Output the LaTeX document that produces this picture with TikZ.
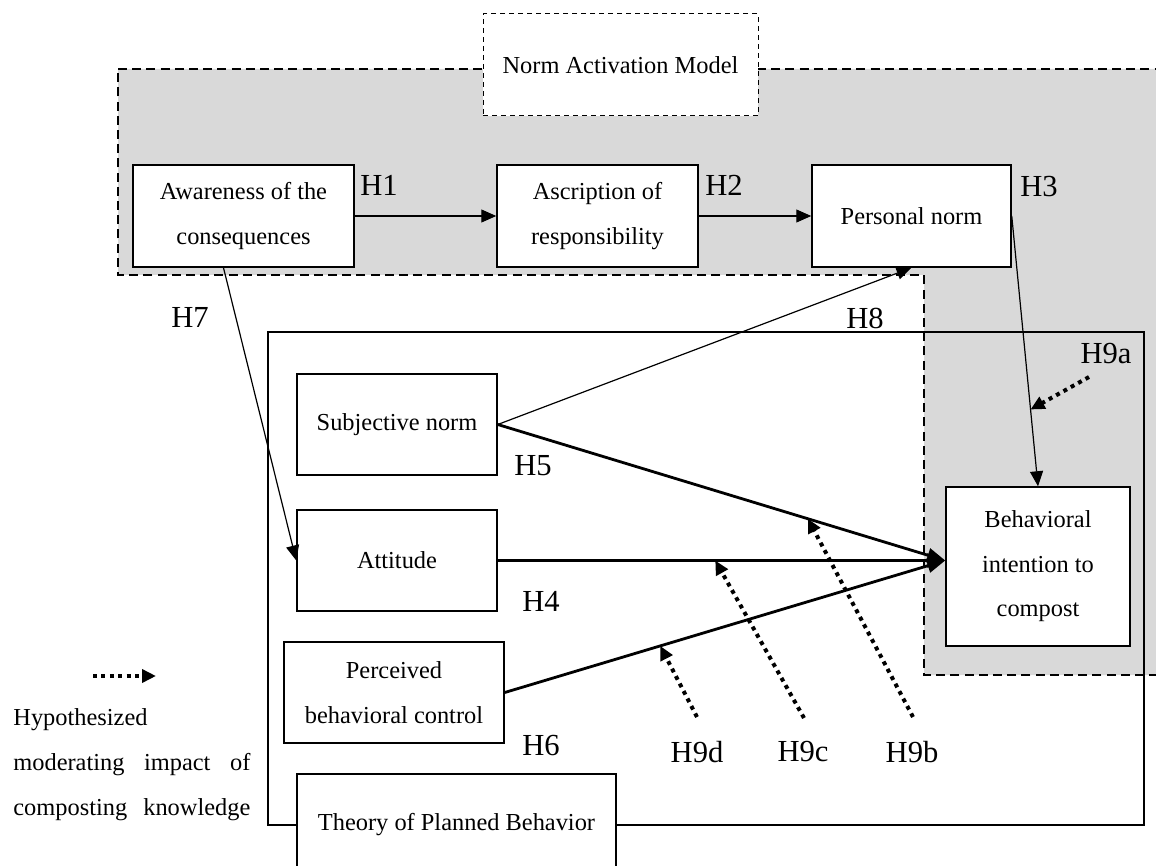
\documentclass[tikz,border=0pt]{standalone}
\usepackage{fontspec}
\setmainfont{Liberation Serif}
\usetikzlibrary{arrows.meta,calc}
\newcommand{\boxfont}{\fontsize{12.2}{22.2}\selectfont}
\newcommand{\hypfont}{\fontsize{15.3}{18}\selectfont}

\begin{document}
\begin{tikzpicture}[x=0.5pt,y=-0.5pt,
	box/.style={draw,line width=0.75pt,fill=white,inner sep=0pt,align=center,font=\boxfont},
	hyp/.style={inner sep=0pt,font=\hypfont},
	thinarr/.style={line width=0.6pt,-{Triangle[length=7.5pt,width=6.5pt]}},
	strongarr/.style={line width=1.4pt,-{Triangle[length=9pt,width=7pt]}},
	modarr/.style={line width=2pt,dash pattern=on 2pt off 2.2pt,-{Triangle[length=7pt,width=6.5pt]}}]
			%%%%% FRAME %%%%%
			\clip (0,0) rectangle (1156,866);
			\def\nh{51pt}
			\def\legw{118.5pt}
			
			% norm activation model area
			\draw[line width=1.4pt,dash pattern=on 4.5pt off 2.6pt,fill=black!15] (118,69) -- (1180,69) -- (1180,675) -- (924,675) -- (924,275) -- (118,275) -- cycle;
			% theory of planned behavior area
			\draw[line width=1.4pt] (268,332) rectangle (1144,825);
			
			\node[box,dash pattern=on 2.5pt off 2pt,line width=0.5pt,minimum width=137.5pt,minimum height=\nh] (nam) at (620.5,65) {Norm Activation Model};
			\node[box,minimum width=159.5pt,minimum height=\nh] (tpb) at (456.5,825) {Theory of Planned Behavior};
			
			%%%%% CONSTRUCTS %%%%%
			\node[box,minimum width=110.5pt,minimum height=\nh] (aw) at (243.5,216) {Awareness of the\\consequences};
			\node[box,minimum width=100.5pt,minimum height=\nh] (asc) at (597.5,216) {Ascription of\\responsibility};
			\node[box,minimum width=99.5pt,minimum height=\nh] (pn) at (911.5,216) {Personal norm};
			\node[box,minimum width=100pt,minimum height=50.5pt] (sn) at (397,424.5) {Subjective norm};
			\node[box,minimum width=100pt,minimum height=50.5pt] (att) at (397,560.5) {Attitude};
			\node[box,minimum width=110pt,minimum height=50.5pt] (pbc) at (394,692.5) {Perceived\\behavioral control};
			\node[box,minimum width=92pt,minimum height=79.5pt] (bi) at (1038,566.5) {Behavioral\\intention to\\compost};
			
			\coordinate (bi in) at (att.east -| bi.west);
			\coordinate (aw out) at ($(aw.south west)!0.41!(aw.south east)$);
			
			%%%%% PATHS %%%%%
			\draw[thinarr] (aw.east) -- (asc.west);
			\draw[thinarr] (asc.east) -- (pn.west);
			\draw[thinarr] (pn.east) -- coordinate[pos=0.716] (m9a) (bi.north);
			\draw[thinarr] (aw out) -- (att.west);
			\draw[thinarr] (sn.east) -- (pn.south);
			\draw[strongarr] (sn.east) -- coordinate[pos=0.693] (m9b) (bi in);
			\draw[strongarr] (att.east) -- coordinate[pos=0.486] (m9c) (bi in);
			\draw[strongarr] (pbc.east) -- coordinate[pos=0.353] (m9d) (bi in);
			
			%%%%% MODERATION %%%%%
			\coordinate (t9a) at (1089,377);
			\coordinate (t9b) at (913,717);
			\coordinate (t9c) at (804,718);
			\coordinate (t9d) at (697,717);
			\draw[modarr] (t9a) -- (m9a);
			\draw[modarr] (t9b) -- (m9b);
			\draw[modarr] (t9c) -- (m9c);
			\draw[modarr] (t9d) -- (m9d);
			
			\node[hyp] (h1) at (379,185) {H1};
			\node[hyp] (h2) at (724,185) {H2};
			\node[hyp] (h3) at (1039,187) {H3};
			\node[hyp] (h4) at (541,601) {H4};
			\node[hyp] (h5) at (533,466) {H5};
			\node[hyp] (h6) at (541,746) {H6};
			\node[hyp] (h7) at (190,317) {H7};
			\node[hyp] (h8) at (865,318) {H8};
			\node[hyp] (h9a) at (1106,354) {H9a};
			\node[hyp] (h9b) at (912,752) {H9b};
			\node[hyp] (h9c) at (803,752) {H9c};
			\node[hyp] (h9d) at (697,752) {H9d};
			
			%%%%% LEGEND %%%%%
			\coordinate (leg a) at (93,676);
			\coordinate (leg b) at (156,676);
			\draw[modarr] (leg a) -- (leg b);
			\node[inner sep=0pt,anchor=west,align=left,font=\fontsize{12.2}{22.5}\selectfont] (leg) at (13,765) {Hypothesized\\\makebox[\legw][s]{moderating impact of}\\\makebox[\legw][s]{composting knowledge}};
		\end{tikzpicture}
\end{document}
